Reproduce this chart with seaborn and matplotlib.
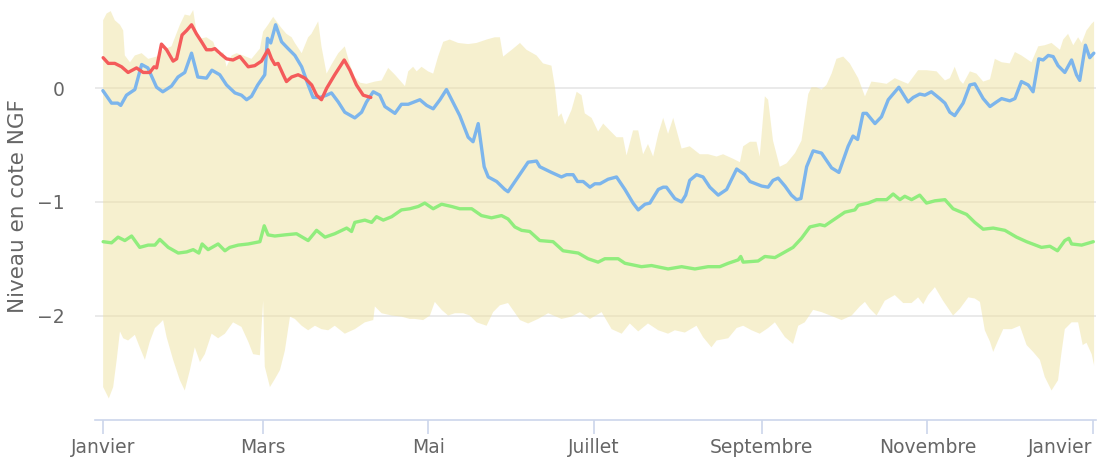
import numpy as np
import pandas as pd
import matplotlib
matplotlib.use("Agg")
import matplotlib.pyplot as plt
import matplotlib.dates as mdates
import matplotlib.ticker as mticker
import seaborn as sns

# jours depuis le 1er janvier, niveaux en cote NGF
jours_bleu = [0, 3.2, 5.5, 6.6, 8.7, 11.8, 14.3, 16.6, 19.8, 22.1, 25.3, 27.7, 30.2, 32.7, 35.0,
              38.2, 40.2, 43.1, 45.6, 48.7, 51.1, 53.0, 54.8, 57.1, 59.7, 60.7, 61.9, 63.7, 65.9,
              68.3, 70.8, 73.3, 75.7, 77.5, 80.0, 82.5, 84.3, 86.8, 89.2, 92.9, 95.4, 97.2, 99.7,
              102.1, 104.0, 107.7, 110.1, 112.6, 116.9, 119.4, 121.8, 124.3, 126.7, 128.6, 131.6,
              134.7, 136.5, 138.4, 140.6, 142.1, 145.2, 148.2, 149.4, 153.1, 156.8, 159.9, 161.1,
              165.4, 169.1, 171.0, 173.4, 175.0, 177.1, 179.6, 181.4, 183.3, 186.3, 189.4, 192.5,
              195.5, 197.4, 199.9, 201.7, 204.8, 206.6, 207.8, 210.9, 213.4, 214.9, 216.4, 218.9,
              221.3, 223.8, 226.9, 230.0, 233.7, 236.7, 238.6, 242.9, 245.3, 247.1, 249.0, 251.5,
              253.9, 255.8, 257.4, 259.5, 261.9, 265.0, 268.7, 271.4, 274.8, 276.6, 278.3, 280.3,
              281.6, 284.7, 287.1, 289.6, 293.5, 296.9, 298.8, 301.2, 303.1, 305.5, 308.6, 310.5,
              312.3, 314.1, 317.2, 319.7, 321.5, 324.6, 327.1, 329.5, 331.4, 334.4, 336.3, 338.7,
              341.2, 343.0, 345.1, 346.7, 348.6, 350.4, 352.2, 354.7, 357.2, 359.0, 360.2, 362.3,
              363.9, 365.4]
niveau_bleu = [-0.02, -0.13, -0.13, -0.15, -0.06, -0.01, 0.21, 0.18, 0.01, -0.03, 0.02, 0.10, 0.14,
               0.31, 0.10, 0.09, 0.16, 0.12, 0.03, -0.04, -0.06, -0.10, -0.07, 0.03, 0.12, 0.44,
               0.40, 0.56, 0.41, 0.35, 0.29, 0.19, 0.03, -0.08, -0.08, -0.06, -0.04, -0.12, -0.21,
               -0.26, -0.21, -0.12, -0.03, -0.06, -0.16, -0.22, -0.14, -0.14, -0.10, -0.15, -0.18,
               -0.10, -0.01, -0.10, -0.24, -0.43, -0.47, -0.31, -0.69, -0.78, -0.82, -0.89, -0.91,
               -0.78, -0.65, -0.64, -0.69, -0.74, -0.78, -0.76, -0.76, -0.82, -0.82, -0.87, -0.84,
               -0.84, -0.80, -0.78, -0.89, -1.01, -1.07, -1.02, -1.01, -0.89, -0.87, -0.87, -0.97,
               -1.00, -0.94, -0.81, -0.76, -0.78, -0.87, -0.94, -0.89, -0.71, -0.76, -0.82, -0.86,
               -0.87, -0.81, -0.79, -0.86, -0.94, -0.98, -0.97, -0.69, -0.55, -0.57, -0.70, -0.74,
               -0.51, -0.42, -0.45, -0.22, -0.22, -0.31, -0.25, -0.10, 0.01, -0.12, -0.08, -0.05,
               -0.06, -0.03, -0.09, -0.13, -0.21, -0.24, -0.13, 0.03, 0.04, -0.09, -0.16, -0.12,
               -0.09, -0.11, -0.09, 0.06, 0.03, -0.03, 0.26, 0.25, 0.29, 0.28, 0.20, 0.14, 0.25,
               0.12, 0.07, 0.38, 0.27, 0.31]

jours_rouge = [0.1, 2.0, 4.4, 6.9, 9.3, 12.4, 14.9, 17.3, 18.9, 19.8, 21.6, 23.5, 25.9, 27.2, 29.2,
               30.9, 32.7, 34.5, 36.4, 38.2, 40.1, 41.3, 43.1, 45.6, 48.0, 50.5, 53.6, 56.0, 58.5,
               60.9, 62.2, 63.4, 64.6, 66.5, 67.7, 69.6, 72.0, 74.5, 77.0, 78.8, 80.6, 82.5, 85.5,
               89.0, 91.1, 93.5, 96.0, 98.8]
niveau_rouge = [0.27, 0.22, 0.22, 0.19, 0.14, 0.18, 0.14, 0.14, 0.19, 0.18, 0.39, 0.34, 0.24, 0.26,
                0.47, 0.51, 0.56, 0.48, 0.41, 0.34, 0.34, 0.35, 0.31, 0.26, 0.25, 0.28, 0.19, 0.20,
                0.24, 0.34, 0.26, 0.21, 0.22, 0.12, 0.06, 0.10, 0.12, 0.09, 0.03, -0.06, -0.10,
                0.00, 0.12, 0.25, 0.16, 0.03, -0.06, -0.08]

jours_vert = [0.1, 3.2, 5.6, 8.1, 10.6, 13.6, 16.7, 19.2, 21.0, 24.1, 27.8, 30.9, 33.3, 35.4, 36.6,
              38.8, 42.5, 45.0, 46.8, 49.9, 53.6, 57.9, 59.5, 60.9, 63.4, 67.1, 71.4, 75.7, 78.8,
              81.9, 85.5, 89.9, 91.7, 92.9, 96.6, 99.1, 100.9, 103.4, 106.5, 110.1, 113.2, 116.3,
              118.7, 121.8, 124.9, 128.6, 131.6, 136.0, 139.6, 143.3, 147.0, 149.4, 151.9, 154.4,
              157.4, 161.1, 166.0, 169.7, 175.3, 178.9, 182.6, 185.1, 190.0, 192.5, 198.6, 202.3,
              208.4, 213.4, 218.3, 223.2, 227.5, 230.6, 234.3, 235.2, 236.1, 241.6, 244.1, 247.8,
              250.8, 254.5, 257.6, 260.7, 264.4, 266.2, 269.9, 273.6, 277.3, 278.5, 282.2, 285.3,
              289.0, 291.4, 293.9, 295.7, 298.2, 301.2, 303.7, 306.8, 310.5, 313.5, 318.5, 321.5,
              324.6, 328.3, 332.6, 336.9, 340.6, 346.1, 349.2, 352.0, 354.7, 356.2, 357.2, 360.9,
              365.2]
niveau_vert = [-1.35, -1.36, -1.31, -1.34, -1.30, -1.40, -1.38, -1.38, -1.33, -1.40, -1.45, -1.44,
               -1.42, -1.45, -1.37, -1.42, -1.37, -1.43, -1.40, -1.38, -1.37, -1.35, -1.21, -1.29,
               -1.30, -1.29, -1.28, -1.34, -1.25, -1.31, -1.28, -1.23, -1.26, -1.18, -1.16, -1.18,
               -1.13, -1.16, -1.13, -1.07, -1.06, -1.04, -1.01, -1.06, -1.02, -1.04, -1.06, -1.06,
               -1.12, -1.14, -1.12, -1.15, -1.22, -1.25, -1.26, -1.34, -1.35, -1.43, -1.45, -1.50,
               -1.53, -1.50, -1.50, -1.54, -1.57, -1.56, -1.59, -1.57, -1.59, -1.57, -1.57, -1.54,
               -1.51, -1.48, -1.53, -1.52, -1.48, -1.49, -1.45, -1.40, -1.32, -1.22, -1.20, -1.21,
               -1.15, -1.09, -1.07, -1.03, -1.01, -0.98, -0.98, -0.93, -0.98, -0.95, -0.98, -0.94,
               -1.01, -0.99, -0.98, -1.06, -1.11, -1.18, -1.24, -1.23, -1.25, -1.31, -1.35, -1.40,
               -1.39, -1.43, -1.34, -1.32, -1.37, -1.38, -1.35]

jours_haut = [0.1, 1.4, 2.9, 4.4, 6.3, 7.5, 8.1, 10.0, 11.8, 14.3, 16.7, 19.8, 22.2, 25.3, 28.4,
              30.2, 32.1, 33.3, 34.5, 36.4, 38.2, 40.7, 42.5, 44.4, 45.6, 47.5, 49.3, 51.7, 54.8,
              57.9, 59.1, 60.9, 62.8, 64.0, 65.9, 67.7, 69.6, 70.8, 73.3, 75.7, 76.9, 79.4, 80.6,
              82.5, 84.3, 86.8, 89.2, 91.1, 92.9, 94.8, 97.2, 100.3, 102.8, 105.2, 107.7, 111.4,
              112.6, 114.4, 115.7, 117.5, 119.9, 121.8, 123.6, 125.5, 127.9, 131.0, 134.7, 137.8,
              141.5, 144.5, 146.4, 147.6, 151.3, 153.8, 156.2, 159.9, 162.3, 165.4, 166.7, 167.9,
              169.1, 170.4, 172.8, 174.7, 176.5, 177.7, 180.2, 182.6, 184.5, 186.9, 189.4, 191.8,
              193.1, 195.5, 197.4, 199.2, 201.0, 202.9, 204.8, 206.6, 208.4, 210.3, 213.4, 216.4,
              220.1, 223.2, 226.3, 228.7, 232.4, 234.9, 236.1, 238.6, 241.0, 242.2, 244.1, 245.3,
              247.1, 249.6, 252.1, 255.2, 257.6, 260.1, 261.3, 263.1, 265.0, 266.8, 268.7, 270.5,
              273.0, 275.4, 278.5, 281.0, 283.4, 286.5, 289.0, 292.0, 293.9, 296.9, 300.6, 303.7,
              307.4, 310.5, 312.3, 314.1, 316.0, 317.2, 319.7, 322.1, 324.6, 327.1, 328.9, 331.4,
              334.4, 336.3, 338.7, 342.4, 344.9, 347.3, 349.8, 352.9, 354.1, 355.9, 357.8, 359.6,
              360.9, 362.7, 364.6, 365.5]
niveau_haut = [0.60, 0.66, 0.68, 0.60, 0.56, 0.51, 0.29, 0.23, 0.29, 0.31, 0.26, 0.28, 0.34, 0.37,
               0.56, 0.65, 0.64, 0.69, 0.50, 0.44, 0.45, 0.41, 0.29, 0.32, 0.19, 0.29, 0.31, 0.29,
               0.26, 0.35, 0.50, 0.56, 0.63, 0.59, 0.53, 0.48, 0.45, 0.40, 0.31, 0.45, 0.48, 0.59,
               0.37, 0.13, 0.21, 0.31, 0.37, 0.21, 0.10, 0.05, 0.04, 0.06, 0.07, 0.18, 0.12, 0.02,
               0.15, 0.19, 0.15, 0.19, 0.15, 0.13, 0.28, 0.41, 0.43, 0.40, 0.39, 0.40, 0.43, 0.45,
               0.45, 0.28, 0.35, 0.40, 0.34, 0.29, 0.22, 0.20, 0.01, -0.25, -0.22, -0.32, -0.19,
               -0.03, -0.06, -0.22, -0.26, -0.38, -0.31, -0.37, -0.43, -0.43, -0.59, -0.37, -0.37,
               -0.58, -0.49, -0.60, -0.40, -0.26, -0.40, -0.26, -0.53, -0.51, -0.58, -0.58, -0.60,
               -0.58, -0.62, -0.65, -0.51, -0.47, -0.47, -0.60, -0.07, -0.10, -0.46, -0.69, -0.66,
               -0.57, -0.46, -0.05, 0.01, 0.01, -0.01, 0.03, 0.13, 0.26, 0.28, 0.22, 0.09, -0.07,
               0.06, 0.05, 0.04, 0.09, 0.07, 0.04, 0.16, 0.16, 0.15, 0.07, 0.09, 0.19, 0.07, 0.04,
               0.15, 0.13, 0.06, 0.08, 0.26, 0.23, 0.22, 0.32, 0.29, 0.23, 0.37, 0.38, 0.40, 0.34,
               0.43, 0.48, 0.38, 0.45, 0.40, 0.51, 0.57, 0.59]

jours_bas = [0.1, 2.2, 3.8, 5.1, 6.3, 7.5, 9.3, 11.8, 13.6, 15.5, 17.3, 19.2, 21.0, 22.2, 23.5,
             25.9, 28.4, 30.2, 32.1, 33.9, 35.8, 37.6, 40.1, 42.5, 45.0, 48.0, 51.1, 53.6, 55.4,
             57.9, 59.1, 59.7, 61.6, 63.4, 65.3, 67.1, 69.0, 70.8, 73.3, 75.7, 78.2, 80.6, 83.1,
             85.5, 89.2, 92.9, 96.6, 99.7, 100.3, 102.8, 106.5, 110.1, 113.2, 115.0, 118.1, 120.6,
             122.4, 124.9, 127.3, 129.8, 132.9, 135.3, 137.8, 141.5, 143.9, 146.4, 149.4, 153.8,
             156.8, 160.5, 164.2, 169.1, 172.8, 175.9, 179.6, 183.9, 187.6, 191.3, 194.3, 197.4,
             201.0, 204.8, 208.4, 210.9, 214.6, 218.9, 221.3, 224.4, 226.3, 230.6, 233.7, 236.1,
             239.2, 242.2, 245.3, 247.8, 251.5, 254.5, 256.4, 258.8, 261.9, 265.0, 269.3, 272.4,
             276.1, 279.1, 281.0, 282.8, 285.3, 288.3, 292.0, 295.1, 298.2, 300.6, 302.5, 304.3,
             306.8, 309.8, 313.5, 316.0, 319.1, 321.5, 323.4, 325.2, 327.1, 328.3, 330.1, 332.0,
             335.1, 338.1, 340.6, 343.0, 345.5, 347.3, 349.8, 352.2, 353.4, 354.7, 357.2, 359.6,
             361.3, 362.7, 364.6, 365.5]
niveau_bas = [-2.63, -2.73, -2.63, -2.39, -2.14, -2.20, -2.22, -2.17, -2.28, -2.39, -2.23, -2.11,
              -2.07, -2.04, -2.19, -2.39, -2.57, -2.66, -2.48, -2.28, -2.41, -2.34, -2.16, -2.20,
              -2.16, -2.06, -2.10, -2.23, -2.34, -2.35, -1.87, -2.45, -2.63, -2.56, -2.48, -2.31,
              -2.01, -2.03, -2.09, -2.13, -2.09, -2.12, -2.13, -2.09, -2.16, -2.12, -2.06, -2.04,
              -1.92, -1.98, -2.00, -2.01, -2.03, -2.03, -2.04, -2.00, -1.88, -1.95, -2.00, -1.98,
              -1.98, -2.00, -2.06, -2.09, -1.97, -1.91, -1.89, -2.04, -2.07, -2.03, -1.98, -2.03,
              -2.01, -1.97, -2.03, -1.97, -2.12, -2.16, -2.07, -2.14, -2.07, -2.13, -2.16, -2.13,
              -2.15, -2.09, -2.19, -2.28, -2.22, -2.20, -2.11, -2.09, -2.13, -2.16, -2.11, -2.06,
              -2.19, -2.25, -2.09, -2.06, -1.95, -1.97, -2.01, -2.04, -2.00, -1.92, -1.88, -1.94,
              -2.00, -1.87, -1.82, -1.89, -1.89, -1.84, -1.90, -1.82, -1.75, -1.87, -2.00, -1.94,
              -1.84, -1.85, -1.88, -2.13, -2.23, -2.32, -2.22, -2.12, -2.12, -2.09, -2.26, -2.32,
              -2.39, -2.54, -2.66, -2.57, -2.34, -2.12, -2.06, -2.06, -2.26, -2.24, -2.34, -2.44]

mois = ["Janvier", "Mars", "Mai", "Juillet", "Septembre", "Novembre", "Janvier"]

debut = pd.Timestamp("2021-01-01")


def dates(jours):
    return debut + pd.to_timedelta(np.array(jours), unit="D")


sns.set_style("white")
plt.rcParams["font.family"] = ["DejaVu Sans"]

fig = plt.figure(figsize=(11, 4.62), dpi=100)
ax = fig.add_axes([95 / 1100, 42 / 462, 1001 / 1100, 413.4 / 462])

ax.yaxis.grid(True, color="#e6e6e6", linewidth=1.2, zorder=0)
ax.set_axisbelow(True)

# enveloppe min / max
bx = np.concatenate([mdates.date2num(dates(jours_haut)), mdates.date2num(dates(jours_bas))[::-1]])
by = np.concatenate([niveau_haut, niveau_bas[::-1]])
ax.fill(bx, by, color="#eee2a0", alpha=0.5, linewidth=0, zorder=1)

sns.lineplot(x=dates(jours_vert), y=niveau_vert, ax=ax, color="#90ed7d", linewidth=2.4, zorder=3)
sns.lineplot(x=dates(jours_bleu), y=niveau_bleu, ax=ax, color="#7cb5ec", linewidth=2.4, zorder=4)
sns.lineplot(x=dates(jours_rouge), y=niveau_rouge, ax=ax, color="#f45b5b", linewidth=2.4, zorder=5)

ax.set_xlim(debut - pd.Timedelta(days=2.9), debut + pd.Timedelta(days=366.2))
ax.set_ylim(-2.92, 0.72)
ax.set_yticks([-2, -1, 0])
ax.yaxis.set_major_formatter(mticker.FuncFormatter(lambda v, p: f"{v:.0f}".replace("-", "\u2212")))

ax.set_xticks(pd.date_range(debut, periods=7, freq="2MS"))
ax.set_xticklabels(mois)
ax.get_xticklabels()[-1].set_horizontalalignment("right")

for s in ["top", "right", "left"]:
    ax.spines[s].set_visible(False)
ax.spines["bottom"].set_color("#ccd6eb")
ax.spines["bottom"].set_linewidth(1.2)

ax.tick_params(axis="x", length=10, width=1.2, color="#ccd6eb", labelcolor="#666666",
               labelsize=13.5, pad=3, bottom=True)
ax.tick_params(axis="y", length=0, labelcolor="#666666", labelsize=13.5, pad=22)

ax.set_xlabel("")
ax.set_ylabel("Niveau en cote NGF", color="#666666", fontsize=15.5)
ax.yaxis.set_label_coords(-0.067, 0.518)

fig.savefig("out.png", dpi=100, facecolor="white")
